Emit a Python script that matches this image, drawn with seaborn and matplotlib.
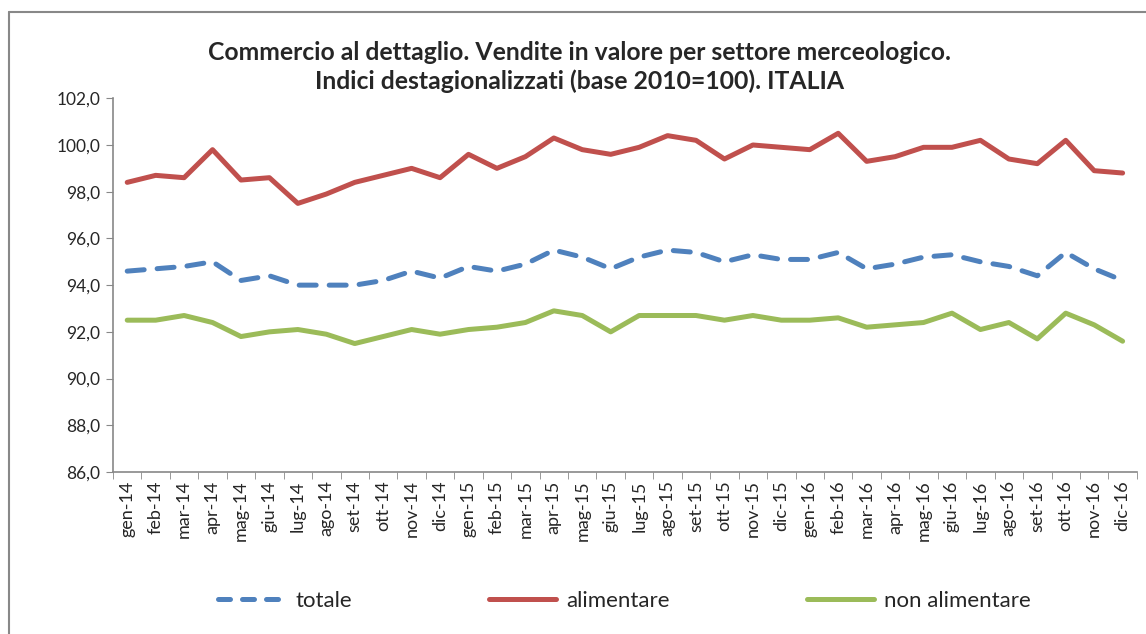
import matplotlib
matplotlib.use("Agg")
import matplotlib.pyplot as plt
import seaborn as sns
import pandas as pd
import numpy as np
from matplotlib.lines import Line2D

# monthly labels (Italian)
months = ["gen", "feb", "mar", "apr", "mag", "giu", "lug", "ago", "set", "ott", "nov", "dic"]
mesi = [f"{m}-{y}" for y in ["14", "15", "16"] for m in months]

# values
totale = [94.6, 94.7, 94.8, 95.0, 94.2, 94.4, 94.0, 94.0, 94.0, 94.2, 94.6, 94.3,
          94.8, 94.6, 94.9, 95.5, 95.2, 94.7, 95.2, 95.5, 95.4, 95.0, 95.3, 95.1,
          95.1, 95.4, 94.7, 94.9, 95.2, 95.3, 95.0, 94.8, 94.4, 95.4, 94.7, 94.2]
alimentare = [98.4, 98.7, 98.6, 99.8, 98.5, 98.6, 97.5, 97.9, 98.4, 98.7, 99.0, 98.6,
              99.6, 99.0, 99.5, 100.3, 99.8, 99.6, 99.9, 100.4, 100.2, 99.4, 100.0, 99.9,
              99.8, 100.5, 99.3, 99.5, 99.9, 99.9, 100.2, 99.4, 99.2, 100.2, 98.9, 98.8]
non_alimentare = [92.5, 92.5, 92.7, 92.4, 91.8, 92.0, 92.1, 91.9, 91.5, 91.8, 92.1, 91.9,
                  92.1, 92.2, 92.4, 92.9, 92.7, 92.0, 92.7, 92.7, 92.7, 92.5, 92.7, 92.5,
                  92.5, 92.6, 92.2, 92.3, 92.4, 92.8, 92.1, 92.4, 91.7, 92.8, 92.3, 91.6]

df = pd.DataFrame({
    "pos": np.arange(len(mesi)),
    "mese": mesi,
    "totale": totale,
    "alimentare": alimentare,
    "non alimentare": non_alimentare,
})

sns.set_style("white")
plt.rcParams["font.family"] = ["Lato", "DejaVu Sans"]

blue = "#4F81BD"
red = "#C0504D"
green = "#9BBB59"
lw = 3.6

fig = plt.figure(figsize=(11.46, 6.34), dpi=100)
ax = fig.add_axes([0.0986, 0.2555, 0.8934, 0.5895])

sns.lineplot(data=df, x="pos", y="totale", ax=ax, color=blue, linewidth=lw)
sns.lineplot(data=df, x="pos", y="alimentare", ax=ax, color=red, linewidth=lw,
             solid_joinstyle="round", solid_capstyle="round")
sns.lineplot(data=df, x="pos", y="non alimentare", ax=ax, color=green, linewidth=lw,
             solid_joinstyle="round", solid_capstyle="round")
ax.lines[0].set_linestyle((0, (3.4, 2.6)))
ax.lines[0].set_dash_capstyle("round")
ax.lines[0].set_dash_joinstyle("round")

ax.set_xlim(-0.5, len(mesi) - 0.5)
ax.set_ylim(86, 102)
yt = np.arange(86, 102.1, 2)
ax.set_yticks(yt)
ax.set_yticklabels([f"{v:.1f}".replace(".", ",") for v in yt], fontsize=12.5)
ax.set_xticks(df["pos"])
ax.set_xticklabels(mesi, rotation=90, fontsize=13)
ax.set_xticks(np.arange(-0.5, len(mesi), 1), minor=True)
ax.tick_params(axis="x", which="major", length=0, pad=6)
ax.tick_params(axis="x", which="minor", length=5, color="#888888", direction="out", bottom=True)
ax.tick_params(axis="y", length=5, color="#888888", direction="out", left=True, pad=4)
ax.set_xlabel("")
ax.set_ylabel("")

for s in ["top", "right"]:
    ax.spines[s].set_visible(False)
for s in ["left", "bottom"]:
    ax.spines[s].set_color("#888888")
    ax.spines[s].set_linewidth(1.2)

fig.text(0.506, 0.894, "Commercio al dettaglio. Vendite in valore per settore merceologico.\n"
         "Indici destagionalizzati (base 2010=100). ITALIA",
         ha="center", va="center", fontsize=17.8, fontweight="bold", linespacing=1.25)

handles = [
    Line2D([0], [0], color=blue, linewidth=lw, linestyle=(0, (2.4, 2.4)), dash_capstyle="round"),
    Line2D([0], [0], color=red, linewidth=lw, solid_capstyle="round"),
    Line2D([0], [0], color=green, linewidth=lw, solid_capstyle="round"),
]
fig.legend(handles, ["totale", "alimentare", "non alimentare"], loc="center",
           bbox_to_anchor=(0.545, 0.052), ncol=3, frameon=False, fontsize=16,
           handlelength=3.0, columnspacing=6.2, handletextpad=0.45)

# chart frame
fig.add_artist(Line2D([9 / 1146, 9 / 1146], [0, 1 - 12 / 634], transform=fig.transFigure,
                      color="#888888", linewidth=1.5))
fig.add_artist(Line2D([9 / 1146, 1], [1 - 12 / 634, 1 - 12 / 634], transform=fig.transFigure,
                      color="#888888", linewidth=1.5))

fig.savefig("out.png", dpi=100, facecolor="white")
